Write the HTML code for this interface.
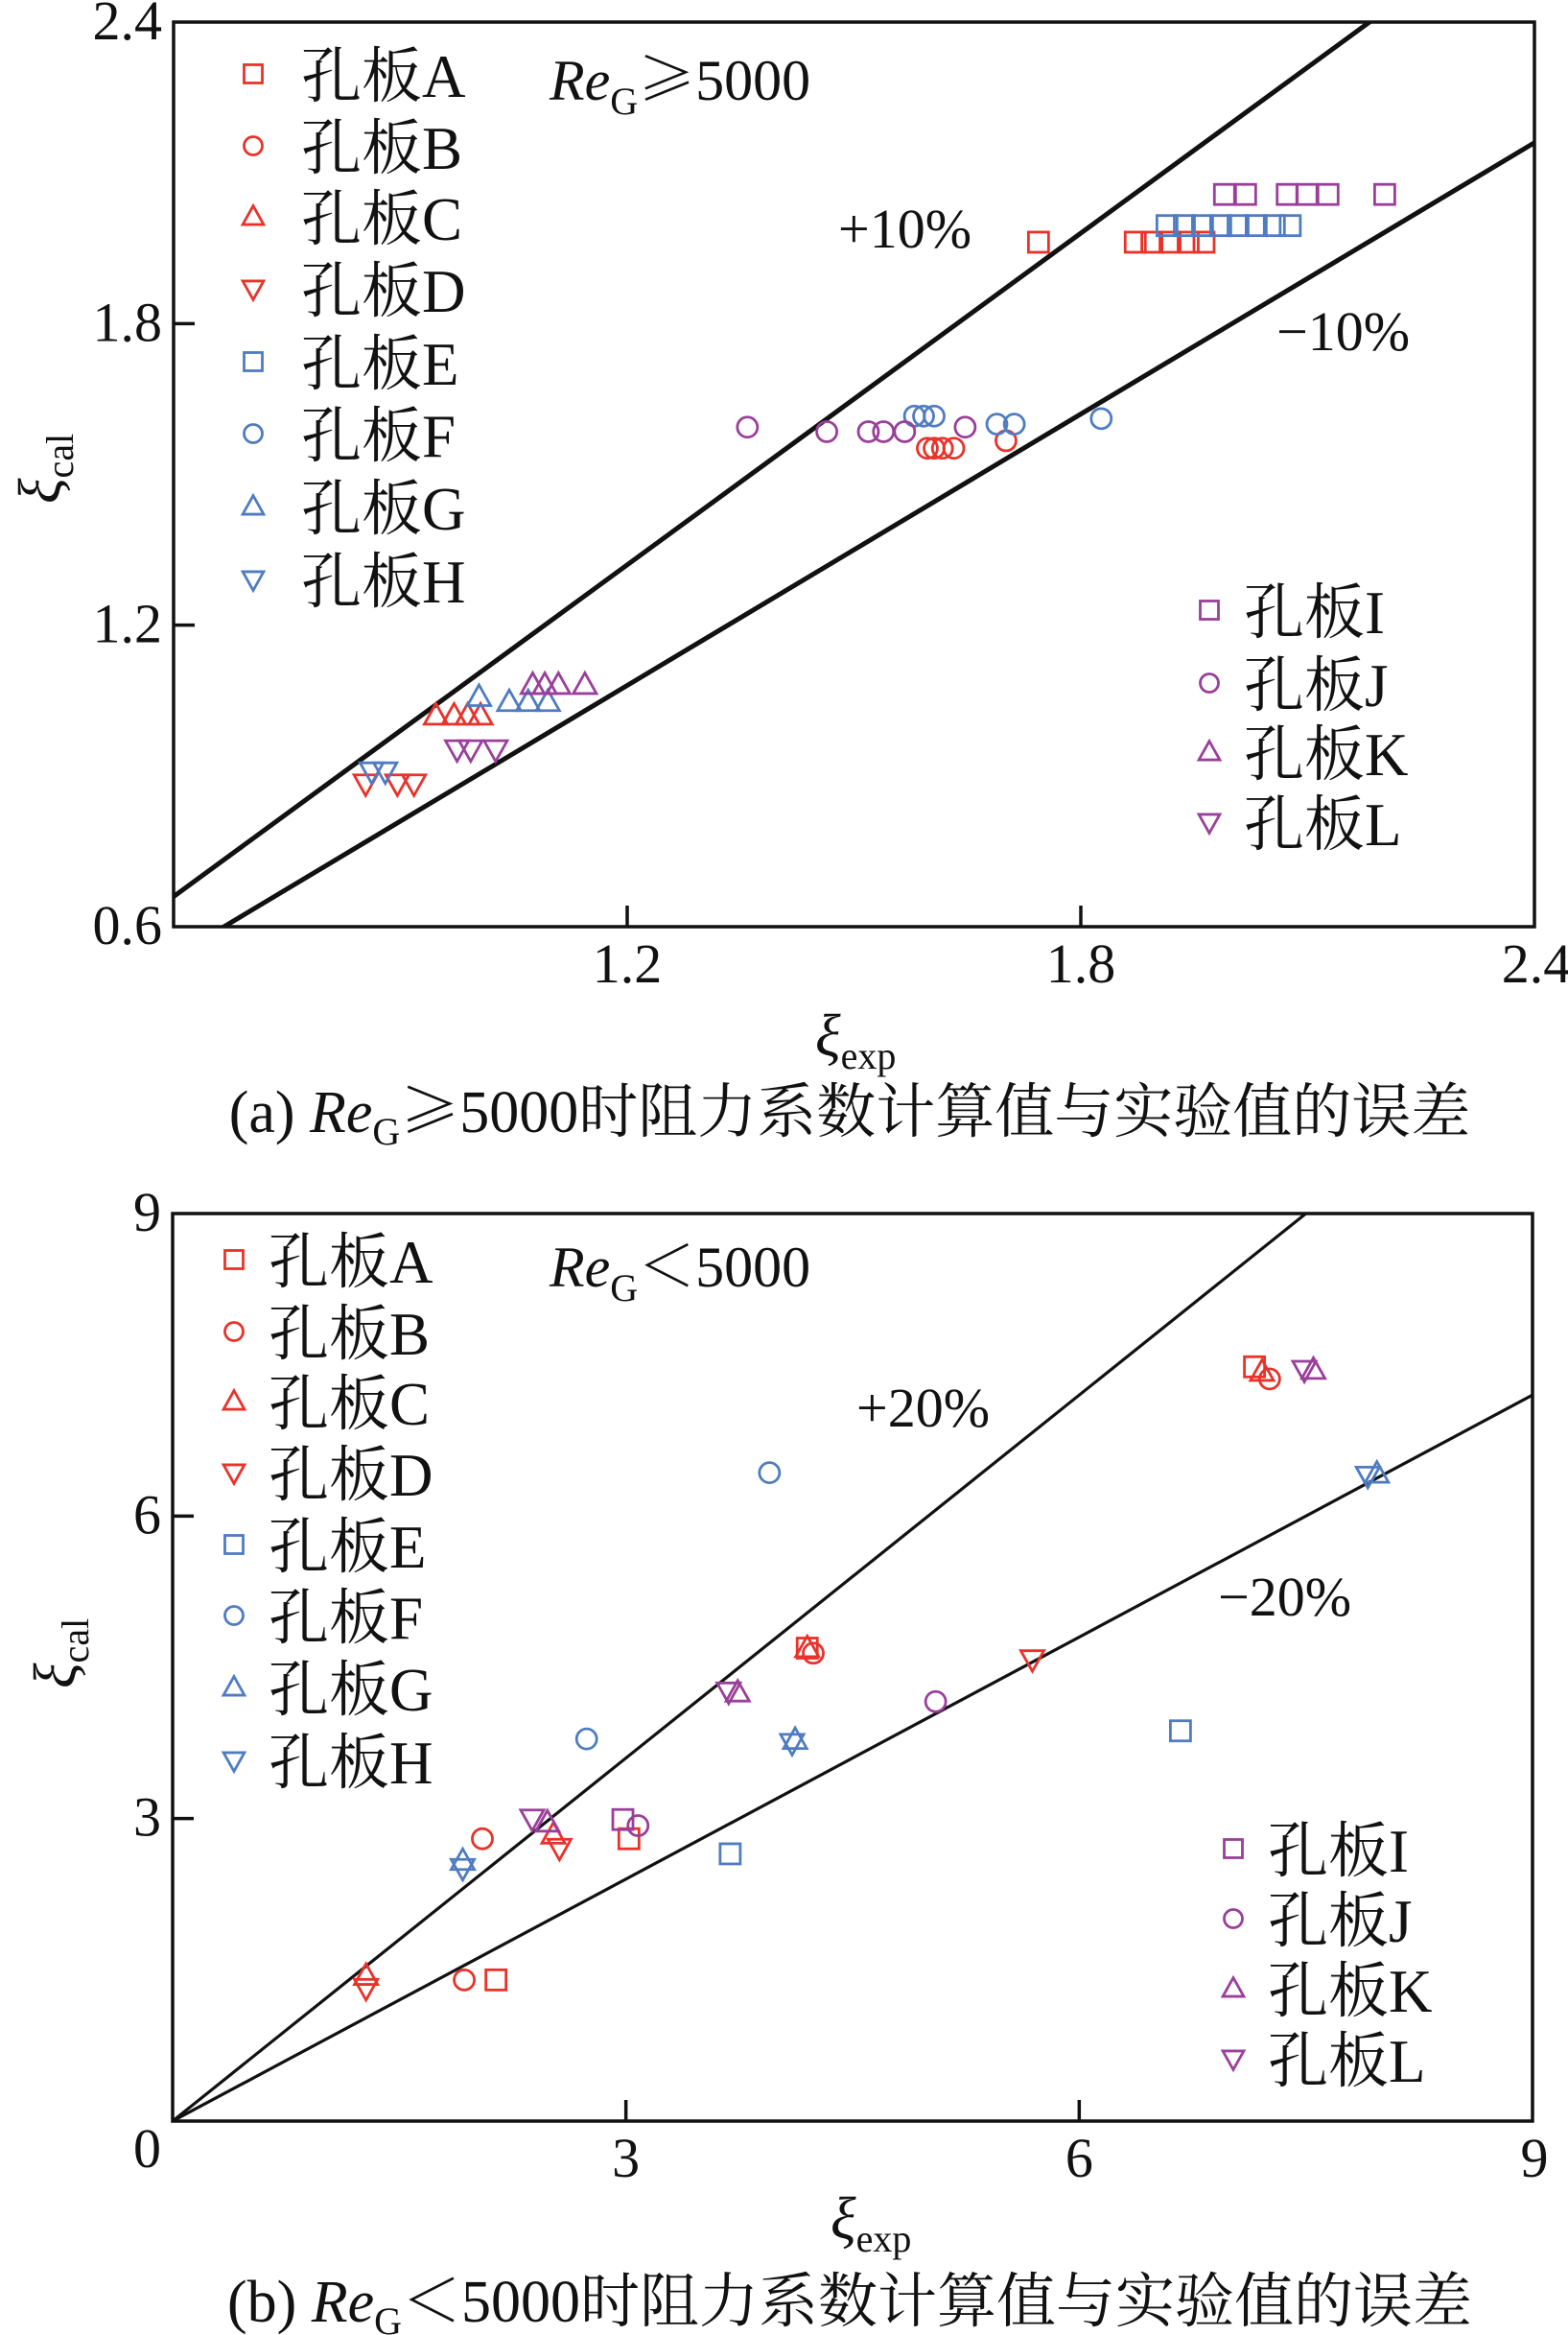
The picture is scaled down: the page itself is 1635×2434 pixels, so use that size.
<!DOCTYPE html>
<html><head><meta charset="utf-8">
<style>
html,body{margin:0;padding:0;background:#fff;}
svg{display:block;}
text{font-family:"Liberation Serif","Noto Serif CJK SC",serif;fill:#111;}
.cjk{font-family:"Noto Serif CJK SC",serif;}
</style></head>
<body>
<svg id="chart" width="1635" height="2434" viewBox="0 0 1635 2434" xmlns="http://www.w3.org/2000/svg"></svg>
<script>
// ---- Chart (a) data ----
const aSeriesNames = ["孔板A","孔板B","孔板C","孔板D","孔板E","孔板F","孔板G","孔板H","孔板I","孔板J","孔板K","孔板L"];
const aAx = [1.744,1.872,1.894,1.918,1.942,1.963];
const aAy = [1.962,1.962,1.962,1.962,1.962,1.962];
const aBx = [1.597,1.606,1.617,1.632,1.701];
const aBy = [1.552,1.552,1.552,1.552,1.567];
const aCx = [0.947,0.971,0.989,1.006];
const aCy = [1.020,1.020,1.020,1.020];
const aDx = [0.854,0.896,0.918];
const aDy = [0.885,0.885,0.885];
const aEx = [1.914,1.937,1.961,1.985,2.008,2.032,2.056,2.077];
const aEy = [1.995,1.995,1.995,1.995,1.995,1.995,1.995,1.995];
const aFx = [1.580,1.592,1.606,1.689,1.712,1.827];
const aFy = [1.616,1.616,1.616,1.600,1.600,1.611];
const aGx = [1.004,1.044,1.069,1.095];
const aGy = [1.057,1.047,1.047,1.047];
const aHx = [0.862,0.880];
const aHy = [0.909,0.909];
const aIx = [1.990,2.018,2.073,2.099,2.127,2.202];
const aIy = [2.057,2.057,2.057,2.057,2.057,2.057];
const aJx = [1.359,1.464,1.519,1.539,1.567,1.647];
const aJy = [1.594,1.585,1.585,1.585,1.585,1.594];
const aKx = [1.075,1.091,1.109,1.144];
const aKy = [1.081,1.081,1.081,1.081];
const aLx = [0.975,0.993,1.026];
const aLy = [0.953,0.953,0.953];
const aTicks = [0.6,1.2,1.8,2.4];
const aTickLabels = ["0.6","1.2","1.8","2.4"];
const aBand = [1.1,0.9];

// ---- Chart (b) data ----
const bAx = [7.16,4.20,3.02,2.14];
const bAy = [7.48,4.69,2.80,1.40];
const bBx = [7.26,4.24,2.05,1.93];
const bBy = [7.36,4.64,2.80,1.40];
const bCx = [7.21,4.20,2.52,1.28];
const bCy = [7.43,4.69,2.84,1.44];
const bDx = [1.28,2.56,5.69];
const bDy = [1.32,2.71,4.58];
const bEx = [3.69,6.67];
const bEy = [2.65,3.87];
const bFx = [3.95,2.74];
const bFy = [6.43,3.79];
const bGx = [7.97,4.12,1.92];
const bGy = [6.42,3.78,2.58];
const bHx = [7.91,4.10,1.92];
const bHy = [6.40,3.75,2.51];
const bIx = [2.98];
const bIy = [2.99];
const bJx = [3.08,5.05];
const bJy = [2.93,4.16];
const bKx = [7.55,3.74,2.48];
const bKy = [7.45,4.25,2.96];
const bLx = [7.49,3.68,2.38];
const bLy = [7.45,4.26,3.00];
const bTicks = [0,3,6,9];
const bTickLabels = ["0","3","6","9"];
const bBand = [1.2,0.8];

const RED="#e8332b", BLUE="#4f7cc1", PURPLE="#9a3f9a";
const seriesColor=[RED,RED,RED,RED,BLUE,BLUE,BLUE,BLUE,PURPLE,PURPLE,PURPLE,PURPLE];
const seriesShape=["sq","ci","up","dn","sq","ci","up","dn","sq","ci","up","dn"];
const NS="http://www.w3.org/2000/svg";
const svg=document.getElementById("chart");

function mk(tag,attrs,parent){const e=document.createElementNS(NS,tag);for(const k in attrs)e.setAttribute(k,attrs[k]);(parent||svg).appendChild(e);return e;}
function txt(s,x,y,size,anchor,parent){const t=mk("text",{x:x,y:y,"font-size":size,"text-anchor":anchor||"start"},parent);t.textContent=s;return t;}

function marker(shape,cx,cy,color,parent,s){
  s=s||10.5;let e;
  if(shape==="sq") e=mk("rect",{x:cx-s,y:cy-s,width:2*s,height:2*s,fill:"none",stroke:color,"stroke-width":2.8},parent);
  else if(shape==="ci") e=mk("circle",{cx:cx,cy:cy,r:s,fill:"none",stroke:color,"stroke-width":2.8},parent);
  else if(shape==="up") e=mk("polygon",{points:`${cx},${cy-s*1.2} ${cx-s*1.15},${cy+s*0.85} ${cx+s*1.15},${cy+s*0.85}`,fill:"none",stroke:color,"stroke-width":2.8},parent);
  else e=mk("polygon",{points:`${cx},${cy+s*1.2} ${cx-s*1.15},${cy-s*0.85} ${cx+s*1.15},${cy-s*0.85}`,fill:"none",stroke:color,"stroke-width":2.8},parent);
  return e;
}

function drawChart(cfg){
  const g=mk("g",{});
  
  
  const X=v=>cfg.x0+(v-cfg.dmin)/(cfg.dmax-cfg.dmin)*(cfg.x1-cfg.x0);
  const Y=v=>cfg.y0-(v-cfg.dmin)/(cfg.dmax-cfg.dmin)*(cfg.y0-cfg.y1);
  const cid=cfg.name+"-clip";
  const cp=mk("clipPath",{id:cid},g);mk("rect",{x:cfg.x0,y:cfg.y1,width:cfg.x1-cfg.x0,height:cfg.y0-cfg.y1},cp);
  cfg.band.forEach((k,i)=>{
    const l=mk("line",{x1:X(cfg.dmin),y1:Y(cfg.dmin*k),x2:X(cfg.dmax),y2:Y(cfg.dmax*k),stroke:"#111","stroke-width":cfg.lw,"clip-path":`url(#${cid})`},g);
    
    
  });
  const fr=mk("rect",{x:cfg.x0,y:cfg.y1,width:cfg.x1-cfg.x0,height:cfg.y0-cfg.y1,fill:"none",stroke:"#111","stroke-width":3.5},g);
  
  
  cfg.ticks.forEach((v,i)=>{
    if(i>0&&i<cfg.ticks.length-1){
      mk("line",{x1:cfg.x0,y1:Y(v),x2:cfg.x0+22,y2:Y(v),stroke:"#111","stroke-width":3.5},g);
      mk("line",{x1:X(v),y1:cfg.y0,x2:X(v),y2:cfg.y0-22,stroke:"#111","stroke-width":3.5},g);
    }
    const yl=txt(cfg.tickLabels[i],cfg.x0-12,Y(v)+(i===0?cfg.zeroDy:18),58,"end",g);
    
    
    const xl=txt(cfg.tickLabels[i],X(v)+(i===cfg.ticks.length-1?2:0),cfg.y0+58,58,"middle",g);
    if(i===0) xl.textContent="";
    
    
  });
  cfg.series.forEach((s,i)=>{
    const sg=mk("g",{},g);
    
    
    s[0].forEach((xv,j)=>{
      const m=marker(seriesShape[i],X(xv),Y(s[1][j]),seriesColor[i],sg);
      
      
    });
  });
  cfg.legL.forEach((yy,i)=>{
    const lg=mk("g",{},g);
    
    
    marker(seriesShape[i],cfg.legLx,yy-8,seriesColor[i],lg,9.5);
    txt(aSeriesNames[i],cfg.legLx+cfg.legOff,yy+16,63,"start",lg);
  });
  cfg.legR.forEach((yy,k)=>{
    const i=k+8;
    const lg=mk("g",{},g);
    
    
    marker(seriesShape[i],cfg.legRx,yy-8,seriesColor[i],lg,9.5);
    txt(aSeriesNames[i],cfg.legRx+36,yy+16,63,"start",lg);
  });
  return {X,Y,g};
}

const A=drawChart({name:"chart-a",x0:181,x1:1600,y0:966,y1:23,dmin:0.6,dmax:2.4,lw:5,band:aBand,ticks:aTicks,tickLabels:aTickLabels,zeroDy:18,
  series:[[aAx,aAy],[aBx,aBy],[aCx,aCy],[aDx,aDy],[aEx,aEy],[aFx,aFy],[aGx,aGy],[aHx,aHy],[aIx,aIy],[aJx,aJy],[aKx,aKy],[aLx,aLy]],
  legL:[85,160,234,309,385,460,536,612],legLx:264,legOff:50,legR:[644,720,792,865],legRx:1261});
{
  const t=mk("text",{x:573,y:104,"font-size":60},A.g);
  t.innerHTML='<tspan font-style="italic">Re</tspan><tspan font-size="40" dy="15">G</tspan><tspan dy="-15" class="cjk">≥</tspan><tspan>5000</tspan>';
  
  const p=txt("+10%",874,258,58,"start",A.g);
  const m=txt("−10%",1331,365,58,"start",A.g);
  const xt=mk("text",{x:850,y:1100,"font-size":62},A.g);xt.innerHTML='<tspan font-style="italic">ξ</tspan><tspan font-size="40" dy="14">exp</tspan>';
  
  const yt=mk("text",{x:0,y:0,"font-size":62,transform:"translate(62,525) rotate(-90)"},A.g);yt.innerHTML='<tspan font-style="italic">ξ</tspan><tspan font-size="40" dy="14">cal</tspan>';
  
  const c=mk("text",{x:886,y:1180,"font-size":62,"text-anchor":"middle"},A.g);
  c.innerHTML='(a) <tspan font-style="italic">Re</tspan><tspan font-size="40" dy="13">G</tspan><tspan dy="-13" class="cjk">≥</tspan><tspan>5000时阻力系数计算值与实验值的误差</tspan>';
  
}

const B=drawChart({name:"chart-b",x0:180,x1:1598,y0:2211,y1:1265,dmin:0,dmax:9,lw:3.2,band:bBand,ticks:bTicks,tickLabels:bTickLabels,zeroDy:48,
  series:[[bAx,bAy],[bBx,bBy],[bCx,bCy],[bDx,bDy],[bEx,bEy],[bFx,bFy],[bGx,bGy],[bHx,bHy],[bIx,bIy],[bJx,bJy],[bKx,bKy],[bLx,bLy]],
  legL:[1321,1396,1469,1543,1618,1692,1767,1843],legLx:244,legOff:36,legR:[1935,2008,2081,2154],legRx:1286});
{
  const t=mk("text",{x:573,y:1341,"font-size":60},B.g);
  t.innerHTML='<tspan font-style="italic">Re</tspan><tspan font-size="40" dy="15">G</tspan><tspan dy="-15" class="cjk">＜</tspan><tspan>5000</tspan>';
  
  const p=txt("+20%",893,1487,58,"start",B.g);
  const m=txt("−20%",1270,1684,58,"start",B.g);
  const xt=mk("text",{x:866,y:2333,"font-size":62},B.g);xt.innerHTML='<tspan font-style="italic">ξ</tspan><tspan font-size="40" dy="14">exp</tspan>';
  
  const yt=mk("text",{x:0,y:0,"font-size":62,transform:"translate(78,1760) rotate(-90)"},B.g);yt.innerHTML='<tspan font-style="italic">ξ</tspan><tspan font-size="40" dy="14">cal</tspan>';
  
  const c=mk("text",{x:886,y:2420,"font-size":62,"text-anchor":"middle"},B.g);
  c.innerHTML='(b) <tspan font-style="italic">Re</tspan><tspan font-size="40" dy="13">G</tspan><tspan dy="-13" class="cjk">＜</tspan><tspan>5000时阻力系数计算值与实验值的误差</tspan>';
  
}
</script>
</body></html>
